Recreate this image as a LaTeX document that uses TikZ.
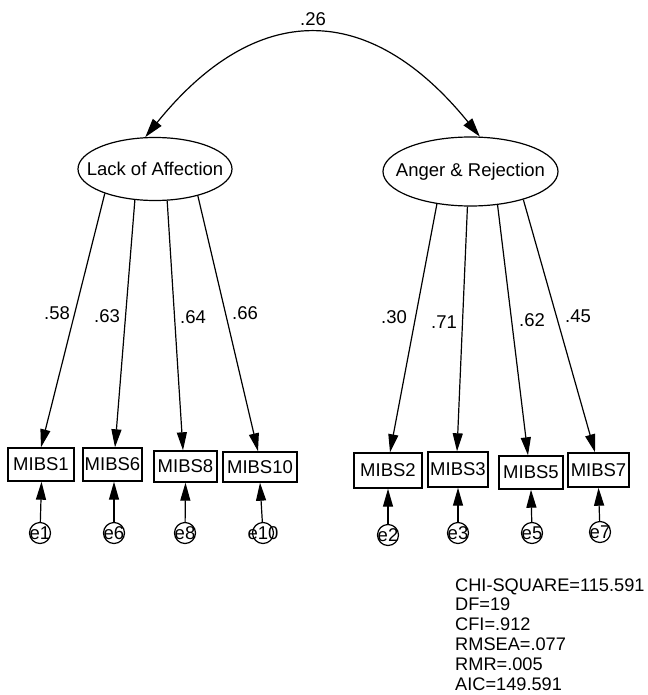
\documentclass[tikz,border=0pt]{standalone}
\usepackage{fontspec}
\setmainfont{Liberation Sans}
\usetikzlibrary{arrows.meta,shapes.geometric}
\begin{document}
\begin{tikzpicture}[x=1pt,y=-1pt,
  every node/.style={font=\fontsize{18.5}{20}\selectfont},
  lat/.style={draw, ellipse, line width=1.2pt, inner sep=0pt},
  obs/.style={draw, rectangle, line width=1.4pt, inner sep=0pt},
  err/.style={draw, circle, line width=1.2pt, inner sep=0pt, minimum size=21pt},
  arr/.style={line width=1.2pt, -{Triangle[length=18pt,width=10pt]}},
  dblarr/.style={line width=1.2pt, {Triangle[length=19pt,width=11pt]}-{Triangle[length=19pt,width=11pt]}},
  coef/.style={inner sep=0pt},
  stat/.style={inner sep=0pt, anchor=base west, font=\fontsize{18.2}{20}\selectfont}
]
\useasboundingbox (0,0) rectangle (647,695);

% latent variables
\node[lat, minimum width=154pt, minimum height=63pt, label=center:{Lack of Affection}] (L1) at (155,169) {};
\node[lat, minimum width=175pt, minimum height=69pt, label=center:{Anger \& Rejection}] (L2) at (470.5,171.5) {};

% observed variables
\node[obs, minimum width=66pt, minimum height=33pt] (B1) at (41,464.5) {MIBS1};
\node[obs, minimum width=59pt, minimum height=33pt] (B6) at (112.5,464.5) {MIBS6};
\node[obs, minimum width=63pt, minimum height=31pt] (B8) at (185.5,466.5) {MIBS8};
\node[obs, minimum width=74pt, minimum height=30pt] (B10) at (260,467) {MIBS10};
\node[obs, minimum width=68pt, minimum height=35pt] (B2) at (388,470.5) {MIBS2};
\node[obs, minimum width=60pt, minimum height=35pt] (B3) at (458,469.5) {MIBS3};
\node[obs, minimum width=64pt, minimum height=33pt] (B5) at (531,472.5) {MIBS5};
\node[obs, minimum width=61pt, minimum height=34pt] (B7) at (598.5,470) {MIBS7};

% error terms
\node[err, label=center:e1] (e1) at (40,533) {};
\node[err, label=center:e6] (e6) at (114,533) {};
\node[err, label=center:e8] (e8) at (185,533) {};
\node[err, label=center:e10] (e10) at (263,533) {};
\node[err, label=center:e2] (e2) at (388,535) {};
\node[err, label=center:e3] (e3) at (458,533) {};
\node[err, label=center:e5] (e5) at (532,533) {};
\node[err, label=center:e7] (e7) at (600,532) {};

% covariance
\draw[dblarr] (L1.107) .. controls (256,0) and (369,0) .. (L2.75);
\node[coef] (c26) at (313,19) {.26};

% loadings
\draw[arr] (L1.206) -- (B1.north);
\draw[arr] (L1.237) -- ([xshift=2.5pt]B6.north);
\draw[arr] (L1.291) -- ([xshift=-2.5pt]B8.north);
\draw[arr] (L1.328) -- ([xshift=-2pt]B10.north);
\draw[arr] (L2.224) -- ([xshift=2pt]B2.north);
\draw[arr] (L2.265) -- ([xshift=-1pt]B3.north);
\draw[arr] (L2.309) -- ([xshift=-3pt]B5.north);
\draw[arr] (L2.332) -- ([xshift=-3.5pt]B7.north);

\node[coef] (c58) at (57,313) {.58};
\node[coef] (c63) at (107,316) {.63};
\node[coef] (c64) at (193,317) {.64};
\node[coef] (c66) at (245,313) {.66};
\node[coef] (c30) at (394,317) {.30};
\node[coef] (c71) at (444,322) {.71};
\node[coef] (c62) at (532,320) {.62};
\node[coef] (c45) at (578,316) {.45};

% error arrows
\draw[arr] (e1) -- ([xshift=0.5pt]B1.south);
\draw[arr] (e6) -- ([xshift=1.5pt]B6.south);
\draw[arr] (e8) -- (B8.south);
\draw[arr] (e10) -- (B10.south);
\draw[arr] (e2) -- (B2.south);
\draw[arr] (e3) -- (B3.south);
\draw[arr] (e5) -- (B5.south);
\draw[arr] (e7) -- (B7.south);

% fit statistics
\node[stat] (s1) at (455,591) {CHI-SQUARE=115.591};
\node[stat] (s2) at (455,610.5) {DF=19};
\node[stat] (s3) at (455,630.5) {CFI=.912};
\node[stat] (s4) at (455,650.5) {RMSEA=.077};
\node[stat] (s5) at (455,670.5) {RMR=.005};
\node[stat] (s6) at (455,690) {AIC=149.591};
\end{tikzpicture}
\end{document}
